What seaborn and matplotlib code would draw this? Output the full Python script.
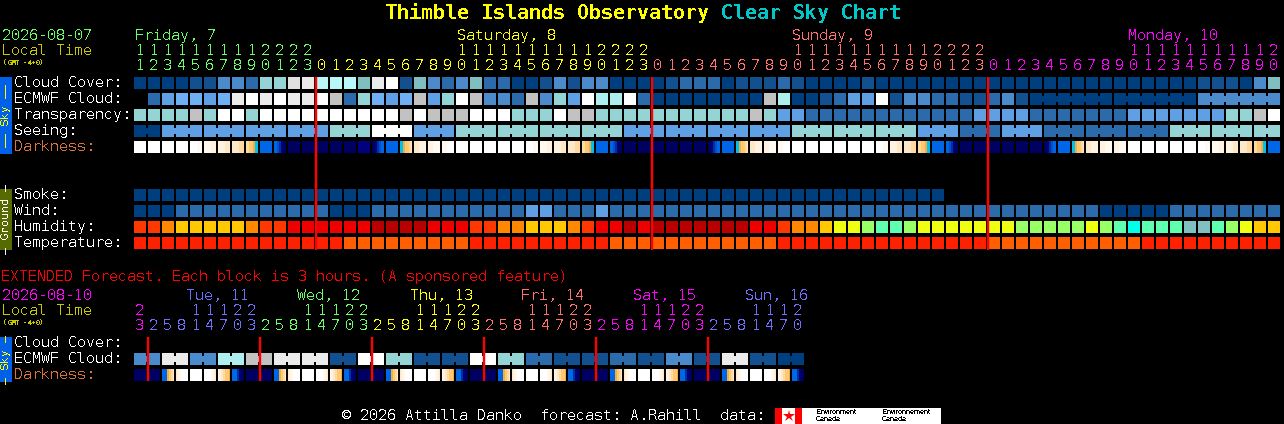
import numpy as np
import matplotlib
matplotlib.use("Agg")
import matplotlib.pyplot as plt
from matplotlib.colors import ListedColormap
import seaborn as sns

# ---------------- data ----------------
hours = [11,12,13,14,15,16,17,18,19,20,21,22,23,
         0,1,2,3,4,5,6,7,8,9,10,11,12,13,14,15,16,17,18,19,20,21,22,23,
         0,1,2,3,4,5,6,7,8,9,10,11,12,13,14,15,16,17,18,19,20,21,22,23,
         0,1,2,3,4,5,6,7,8,9,10,11,12,13,14,15,16,17,18,19,20]
day_names = ["Friday, 7", "Saturday, 8", "Sunday, 9", "Monday, 10"]

ext_hours = [23, 2,5,8,11,14,17,20,23, 2,5,8,11,14,17,20,23, 2,5,8,11,14,17,20,23,
             2,5,8,11,14,17,20,23, 2,5,8,11,14,17,20,23, 2,5,8,11,14,17,20]
ext_day_names = ["", "Tue, 11", "Wed, 12", "Thu, 13", "Fri, 14", "Sat, 15", "Sun, 16"]

cloud_cover  = "aaaabbddch hlmjjjgmnb gdcdgccaab dbddaaaabc ccabbbcbaa aabaaaaaaa aaaaaaaaaa aaaaaabbba dg"
ecmwf_cloud  = ".ceffefmnm nmmnkchfef kehnkddckd heniincaaa aaaaakiaab ceenbddccb bcdbaaaaaa aaaaaadddd dd"
ecmwf_groups = [1]*64 + [6, 6, 6]
transparency = "hhhhkhnnhn nnnnnnnnnk nkkknnnhhh nkkhhhhhhh hhhhkheecc cccccccccc eeeecccccc ceeeeeeehh kn"
seeing       = "aa eeeeeeeeeeee hhh nnn eee hhhhhhhhhhhh eeeeeeeeeeee hhhhhhhhh eee ccc eee ccccccccc hhhhhhhh"
seeing_groups = [2] + [3]*26 + [2]
darkness     = "AAAABCDEFGH IIIII JKGMNOP AAAAA BCDEFGH IIIIII KGMNOP AAAAAA BDEFGH IIIIII KGMNOO AAAAA BCDEFG"

smoke       = "aaaaaaaaaa aaaaaaaaaa aaaaaaaaaa aaaaaaaaaa aaaaaaaaaa aaaaaaaa.. .......... .......... .."
wind        = "aaa ccccccccccc aaa ccccccccccc ee ccc e ccccccccccccccccccccccccccccccccccc aaaaa cccccccc"
humidity    = "ppqrrrrrqp pssssssttt tsssppqqrr rqpsststtt ttttsspqqr uuvwwvuuuu uuuvvvvvuv wxwwwyywvu rr"
temperature = "AAAAAAAAAAAAAAA BBBBBBBBB AAAAAAAAAA BBBBBBBBBBBB AAAAAAAAAAAAAAA BBBBBBBBBBB AAAAAAAAAA"

ext_ecmwf = "dd mm dd ii kk mm mm bb nn hh bb bb nn hh cc bb bb cc bb dd bb mm bb aa"
ext_ecmwf_groups = [2]*24
ext_darkness = "IIQRASTU IIQRASTU IIQRASTU IIQRASTU IIQRASTU IIQRASTU"

# ---------------- palettes ----------------
block_colors = {
    "a":"#003f7f","b":"#13508f","c":"#2b6bab","d":"#4b8bcb","e":"#5f9fe3","f":"#6fb0f5",
    "g":"#7fbfbf","h":"#94d4d4","i":"#aeeeee","j":"#b8f8f8","k":"#c2c2c2","l":"#e0e0e0",
    "m":"#ebebeb","n":"#ffffff",
    "p":"#ff3800","q":"#ff8800","r":"#ffc800","s":"#ee0000","t":"#b80000","u":"#eeff11",
    "v":"#99ff66","w":"#5fffb0","x":"#00ffe8","y":"#80c0c0","A":"#ff2000","B":"#ff5f00",
}
block_keys = list(block_colors)
block_cmap = ListedColormap([block_colors[k] for k in block_keys])

dark_colors = ["#ffffff","#fff9f0","#fff2e0","#ffe8c8","#ffd9a0","#ffc870","#f0b040",
               "#00c0f0","#0066e8","#0050d0","#0030a0","#000080","#000060"]
dark_cmap = ListedColormap(dark_colors)
# each darkness code is one block, seen as seven slices of the hour
dark_blocks = {
    "A":[0,0,0,0,0,0,0], "B":[0,0,0,0,1,1,1], "C":[1,1,1,1,2,2,2], "D":[2,2,2,2,3,3,3],
    "E":[3,3,3,3,4,4,4], "F":[4,4,5,5,6,7,7], "G":[8,8,8,8,8,8,8], "H":[8,8,9,10,11,12,12],
    "I":[12,12,12,12,12,12,12], "J":[11,11,11,11,11,11,11], "K":[12,12,11,10,9,8,8],
    "M":[7,7,6,5,5,4,3], "N":[3,3,3,2,2,2,2], "O":[2,2,2,1,1,1,1], "P":[1,1,1,0,0,0,0],
    "Q":[8,8,8,6,5,4,3], "R":[3,2,1,0,0,0,0], "S":[0,0,0,0,1,2,3], "T":[1,2,3,4,5,5,6],
    "U":[8,8,8,10,11,12,12],
}

FRI, SAT, SUN, MON, BLUE = "#66ff66", "#ffff00", "#ff7070", "#ff00ff", "#7070ff"
LOCAL, DARK_LABEL = "#c8c800", "#d9733a"

# ---------------- set-up ----------------
W, H = 1284, 424
DPI = 100
PX = 72 / DPI
sns.set_style("dark", {"axes.facecolor": "black", "figure.facecolor": "black"})
plt.rcParams["font.family"] = ["DejaVu Sans Mono", "Liberation Mono"]
plt.rcParams["text.antialiased"] = False
plt.rcParams["text.hinting"] = "native"
plt.rcParams["text.hinting_factor"] = 1
plt.rcParams["axes.linewidth"] = 0

fig = plt.figure(figsize=(W / DPI, H / DPI), dpi=DPI, facecolor="black")

def px_axes(x, y, w, h, **kw):
    ax = fig.add_axes([x / W, 1 - (y + h) / H, w / W, h / H], **kw)
    ax.set_facecolor("black")
    return ax

def codes(text):
    return text.replace(" ", "")

def block_row(text, top, groups=None, x0=134):
    vals = codes(text)
    n = len(vals)
    arr = np.array([[block_keys.index(c) if c != "." else -1 for c in vals]], dtype=float)
    ax = px_axes(x0 - 1, top - 1, 14 * n, 14)
    sns.heatmap(arr, mask=arr < 0, cmap=block_cmap, vmin=-0.5, vmax=len(block_keys) - 0.5,
                cbar=False, linewidths=2 * PX, linecolor="black",
                xticklabels=False, yticklabels=False, ax=ax)
    if groups:
        edge = 0
        for g in groups:
            for j in range(edge + 1, edge + g):
                if vals[j] != ".":
                    ax.hlines(0.5, j - 0.12, j + 0.12, color=block_colors[vals[j]],
                              lw=6 * PX, capstyle="butt")
            edge += g
    return ax

def dark_row(text, top, x0=134):
    vals = codes(text)
    n = len(vals)
    arr = np.array([[s for c in vals for s in dark_blocks[c]]], dtype=float)
    ax = px_axes(x0 - 1, top, 14 * n, 12)
    sns.heatmap(arr, cmap=dark_cmap, vmin=-0.5, vmax=len(dark_colors) - 0.5, cbar=False,
                xticklabels=False, yticklabels=False, ax=ax)
    ax.vlines(np.arange(n + 1) * 7, 0, 1, color="black", lw=2 * PX)
    return ax

# ---------------- block rows ----------------
block_row(cloud_cover, 77)
block_row(ecmwf_cloud, 93, ecmwf_groups)
block_row(transparency, 109)
block_row(seeing, 125, seeing_groups)
dark_row(darkness, 141)
block_row(smoke, 189)
block_row(wind, 205)
block_row(humidity, 221)
block_row(temperature, 237)
block_row(ext_ecmwf, 353, ext_ecmwf_groups)
dark_row(ext_darkness, 369)

# ---------------- overlay: text, side bars, day lines ----------------
ov = fig.add_axes([0, 0, 1, 1], zorder=10)
ov.set_xlim(0, W); ov.set_ylim(H, 0); ov.axis("off"); ov.patch.set_alpha(0)

def label(x, y, s, color="white", size=10.8, **kw):
    kw.setdefault("va", "center"); kw.setdefault("ha", "left")
    ov.text(x, y + 1.2, s, color=color, fontsize=size, **kw)

label(385, 12, "Thimble Islands Observatory", "#ffff00", 14.4, fontweight="bold")
label(721, 12, "Clear Sky Chart", "#00c8c8", 14.4, fontweight="bold")

label(2, 35, "2026-08-07", FRI)
label(2, 50, "Local Time", LOCAL)
label(3, 61, "(GMT -4+0)", LOCAL, 5.4, fontweight="bold")

day_cols = [FRI, SAT, SUN, MON]
day = 0
for i, h in enumerate(hours):
    if h == 0:
        day += 1
    c = day_cols[day]
    cx = 140 + 14 * i
    if h >= 10:
        label(cx, 50, str(h // 10), c, ha="center")
    label(cx, 65, str(h % 10), c, ha="center")
for x, name, c in zip([135, 457, 792, 1128], day_names, day_cols):
    label(x, 35, name, c)

for y, s, c in [(82, "Cloud Cover:", "white"), (98, "ECMWF Cloud:", "white"),
                (114, "Transparency:", "white"), (130, "Seeing:", "white"),
                (146, "Darkness:", DARK_LABEL), (194, "Smoke:", "white"),
                (210, "Wind:", "white"), (226, "Humidity:", "white"),
                (242, "Temperature:", "white"), (342, "Cloud Cover:", "white"),
                (358, "ECMWF Cloud:", "white"), (374, "Darkness:", DARK_LABEL)]:
    label(14, y, s, c)

label(1, 276, "EXTENDED Forecast. Each block is 3 hours. (A sponsored feature)", "#ff0000")
label(2, 295, "2026-08-10", MON)
label(2, 310, "Local Time", LOCAL)
label(3, 321, "(GMT -4+0)", LOCAL, 5.4, fontweight="bold")

ext_cols = [MON, BLUE, FRI, SAT, SUN, MON, BLUE]
day = 0
for i, h in enumerate(ext_hours):
    if i > 0 and h < ext_hours[i - 1]:
        day += 1
    c = ext_cols[day]
    cx = 140 + 14 * i
    if h >= 10:
        label(cx, 310, str(h // 10), c, ha="center")
    label(cx, 325, str(h % 10), c, ha="center")
for x, name, c in zip([0, 186, 297, 410, 521, 633, 745], ext_day_names, ext_cols):
    label(x, 295, name, c)

# side bars
ov.fill_between([0, 12], 77, 154, color="#0060e8", lw=0)
ov.fill_between([0, 12], 189, 250, color="#556b00", lw=0)
ov.fill_between([0, 12], 337, 382, color="#0060e8", lw=0)
label(6, 114, "\u2013\u2013 Sky \u2013\u2013", "#ffff00", 7.6, rotation=90, ha="center")
label(6, 218, "\u2013 Ground \u2013", "white", 7.6, rotation=90, ha="center")
label(6, 358, "\u2013 Sky \u2013", "#ffff00", 7.6, rotation=90, ha="center")

# midnight lines
for i, h in enumerate(hours):
    if h == 0:
        x = 134 + 14 * i
        ov.vlines(x - 0.01, 77, 250, color="#ff0000", lw=2.4 * PX)
for i, h in enumerate(ext_hours):
    if i > 0 and h < ext_hours[i - 1]:
        x = 134 + 14 * i
        ov.vlines(x - 0.01, 337, 381, color="#ff0000", lw=2.4 * PX)

# footer and data logos
label(342, 415, "\u00a9 2026 Attilla Danko  forecast: A.Rahill  data:")
ov.fill_between([775, 941], 408, 424, color="white", lw=0)
ov.fill_between([775, 782], 408, 424, color="#ff0000", lw=0)
ov.fill_between([795, 802], 408, 424, color="#ff0000", lw=0)
ov.plot([788.5], [416], marker="*", ms=9, color="#ff0000", mew=0)
for x in [816, 882]:
    label(x, 411, "Environment" if x == 816 else "Environnement", "black", 5.0,
          family=["Liberation Sans"])
    label(x, 418, "Canada", "black", 5.0, family=["Liberation Sans"])

fig.savefig("out.png", dpi=DPI, facecolor="black")
